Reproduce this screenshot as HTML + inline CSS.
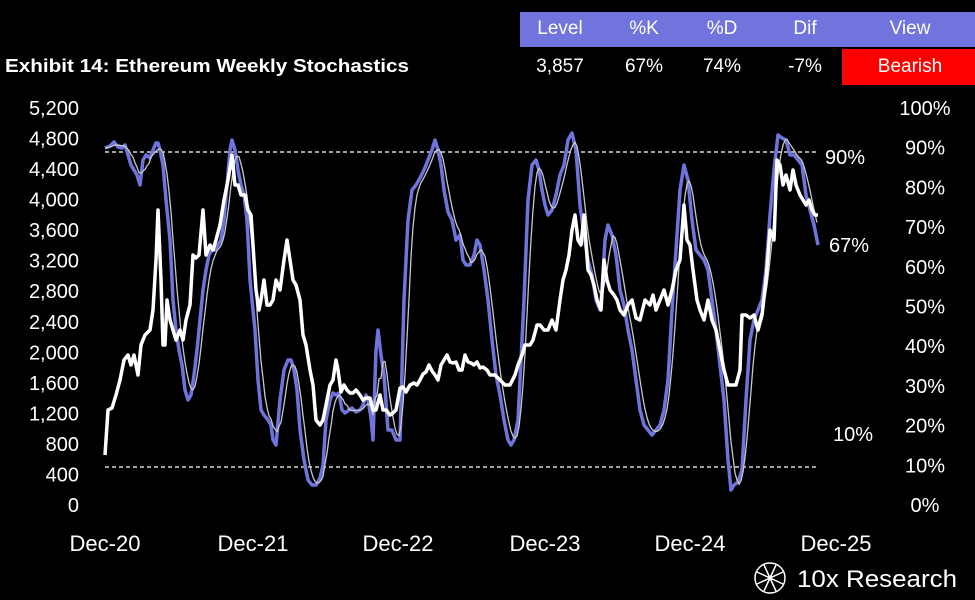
<!DOCTYPE html>
<html><head><meta charset="utf-8"><style>
html,body{margin:0;padding:0;background:#000;width:975px;height:600px;overflow:hidden}
svg{display:block;font-family:"Liberation Sans",sans-serif}
</style></head><body>
<svg id="s" width="975" height="600" viewBox="0 0 975 600">
<rect width="975" height="600" fill="#000"/>
<rect x="520" y="12" width="455" height="35" fill="#7074dc"/>
<rect x="842" y="49" width="133" height="36" fill="#ff0000"/>
<g fill="#fff" font-size="19" text-anchor="middle">
<text x="560" y="34">Level</text><text x="644" y="34">%K</text><text x="722" y="34">%D</text><text x="805" y="34">Dif</text><text x="910" y="34">View</text>
<text x="560" y="72">3,857</text><text x="644" y="72">67%</text><text x="722" y="72">74%</text><text x="805" y="72">-7%</text><text x="910" y="72">Bearish</text>
</g>
<text x="5" y="72" fill="#fff" font-size="18" font-weight="bold" textLength="404" lengthAdjust="spacingAndGlyphs">Exhibit 14: Ethereum Weekly Stochastics</text>
<g fill="#fff" font-size="20" text-anchor="end" id="ly"></g>
<g fill="#fff" font-size="20" text-anchor="middle" id="ry"></g>
<g fill="#fff" font-size="22" text-anchor="middle">
<text x="105" y="551">Dec-20</text><text x="253" y="551">Dec-21</text><text x="398" y="551">Dec-22</text><text x="545" y="551">Dec-23</text><text x="690" y="551">Dec-24</text><text x="836" y="551">Dec-25</text>
</g>
<g fill="#fff" font-size="20">
<text x="825" y="164">90%</text><text x="829" y="252">67%</text><text x="833" y="441">10%</text>
</g>
<line x1="105" y1="152" x2="818" y2="152" stroke="#fff" stroke-width="1.2" stroke-dasharray="4,3"/>
<line x1="105" y1="467" x2="818" y2="467" stroke="#fff" stroke-width="1.2" stroke-dasharray="4,3"/>
<path id="pk" fill="none" stroke="#6f73dc" stroke-width="3.5" stroke-linejoin="round"/>
<path id="pd" fill="none" stroke="#c8c8c8" stroke-width="1.3" stroke-linejoin="round"/>
<path id="pp" fill="none" stroke="#fff" stroke-width="3.5" stroke-linejoin="round"/>
<g stroke="#fff" stroke-width="1.5" fill="none"><circle cx="770" cy="578" r="15"/><path d="M757 572 L783 584 M757 584 L783 572 M764 565 L776 591 M776 565 L764 591"/></g>
<text x="797" y="587" fill="#fff" font-size="24" textLength="160" lengthAdjust="spacingAndGlyphs">10x Research</text>
</svg>
<script>
var ly=document.getElementById('ly'),ry=document.getElementById('ry'),ns='http://www.w3.org/2000/svg';
for(var v=0;v<=5200;v+=400){var t=document.createElementNS(ns,'text');t.setAttribute('x',79);t.setAttribute('y',505-v*397/5200+7);t.textContent=v>=1000?(Math.floor(v/1000)+','+String(v%1000).padStart(3,'0')):v;ly.appendChild(t);}
for(var p=0;p<=100;p+=10){var t=document.createElementNS(ns,'text');t.setAttribute('x',925);t.setAttribute('y',505-p*3.97+7);t.textContent=p+'%';ry.appendChild(t);}
function P(a){return 'M'+a.map(function(q){return q[0]+' '+q[1]}).join(' L');}
var price=[[105,455],[108,410],[112,408],[116,395],[120,380],[124,360],[128,355],[131,365],[134,355],[138,375],[141,345],[145,335],[150,330],[153,310],[156,260],[158,210],[161,280],[163,345],[165,345],[167,300],[170,320],[173,330],[176,340],[180,330],[183,340],[186,320],[190,305],[193,255],[196,258],[199,255],[203,210],[206,255],[210,245],[213,250],[216,240],[220,225],[224,200],[228,180],[232,155],[235,185],[238,185],[241,195],[245,195],[248,210],[251,215],[253,245],[256,290],[259,310],[261,300],[264,280],[267,305],[270,305],[273,300],[276,280],[280,290],[284,260],[287,240],[290,260],[293,280],[296,285],[300,300],[303,335],[306,345],[310,370],[313,385],[316,420],[320,425],[323,420],[326,405],[330,385],[333,380],[336,360],[338,370],[341,392],[344,385],[347,390],[350,393],[353,393],[356,390],[360,395],[363,400],[366,398],[370,398],[373,410],[376,410],[380,395],[383,410],[386,410],[390,415],[393,413],[396,410],[400,388],[403,387],[406,392],[410,385],[414,383],[417,385],[420,380],[423,374],[426,372],[429,365],[432,371],[435,375],[438,380],[441,365],[444,360],[447,355],[450,362],[453,363],[456,362],[459,370],[462,370],[465,355],[468,362],[471,363],[474,365],[477,362],[480,368],[483,367],[487,370],[490,375],[495,375],[500,380],[505,385],[510,385],[515,375],[518,365],[522,355],[525,345],[530,345],[533,340],[537,325],[540,325],[544,330],[548,330],[552,320],[556,330],[560,300],[563,280],[566,270],[569,255],[572,230],[575,215],[578,240],[581,245],[584,215],[588,270],[591,275],[594,285],[597,300],[601,310],[604,260],[607,280],[610,290],[614,295],[617,300],[620,310],[624,315],[628,305],[632,300],[636,318],[640,320],[645,300],[650,305],[653,295],[656,310],[660,300],[664,290],[668,305],[672,290],[676,270],[680,260],[684,205],[687,240],[690,245],[693,270],[697,300],[700,310],[704,320],[708,300],[712,320],[716,330],[720,350],[724,370],[728,385],[732,385],[736,385],[740,370],[742,315],[746,315],[750,318],[754,315],[758,330],[762,315],[766,280],[770,230],[774,240],[777,160],[780,165],[783,185],[786,175],[790,190],[793,170],[796,185],[800,195],[803,200],[806,205],[809,200],[812,210],[815,215],[818,215]];
var K=[[105,148],[110,146],[114,142],[118,147],[122,148],[125,145],[128,155],[131,165],[134,170],[137,175],[140,185],[143,160],[146,155],[150,158],[153,150],[156,143],[158,143],[160,150],[163,165],[166,200],[170,240],[173,300],[176,330],[179,350],[182,365],[185,390],[188,400],[191,395],[194,375],[197,350],[200,320],[203,290],[206,270],[209,255],[212,250],[215,250],[218,245],[221,240],[224,220],[227,185],[230,150],[232,140],[235,150],[238,170],[241,185],[244,195],[247,220],[250,280],[252,300],[255,330],[258,380],[261,410],[264,415],[268,420],[271,425],[273,440],[276,445],[280,400],[284,370],[288,360],[291,360],[294,370],[297,390],[300,430],[304,460],[308,480],[312,485],[316,485],[320,478],[323,465],[326,420],[330,400],[333,393],[336,395],[339,393],[342,410],[345,413],[349,410],[352,408],[356,412],[360,410],[363,405],[366,395],[368,400],[371,418],[373,440],[376,350],[378,330],[381,355],[384,375],[388,430],[392,430],[396,440],[400,440],[404,300],[408,220],[412,190],[416,185],[420,178],[424,170],[428,160],[432,150],[435,140],[438,150],[441,165],[444,190],[448,212],[452,220],[456,240],[460,235],[463,260],[466,265],[470,265],[474,255],[477,240],[480,245],[484,270],[488,300],[492,340],[496,375],[500,395],[504,420],[508,440],[511,445],[514,440],[518,420],[521,360],[524,300],[528,200],[532,165],[536,160],[539,170],[542,190],[545,205],[548,215],[552,210],[556,195],[560,175],[564,165],[568,140],[572,133],[576,150],[580,205],[584,235],[588,260],[592,275],[596,300],[600,310],[602,290],[605,240],[608,225],[612,235],[616,255],[620,290],[624,305],[628,330],[632,350],[636,380],[640,410],[644,425],[648,430],[652,435],[656,430],[660,425],[664,410],[668,380],[672,310],[676,250],[680,190],[684,165],[688,180],[692,220],[696,250],[700,255],[704,260],[708,270],[712,300],[716,330],[720,365],[724,400],[728,460],[731,490],[734,485],[738,482],[742,470],[746,400],[750,340],[754,320],[758,310],[762,300],[766,270],[770,215],[774,170],[778,135],[782,138],[786,140],[790,155],[794,155],[798,160],[802,165],[806,195],[810,210],[814,225],[818,245]];
function interp(a,x){if(x<=a[0][0])return a[0][1];for(var i=1;i<a.length;i++){if(a[i][0]>=x){var t=(x-a[i-1][0])/(a[i][0]-a[i-1][0]);return a[i-1][1]+t*(a[i][1]-a[i-1][1]);}}return a[a.length-1][1];}
var D=[];for(var x=105;x<=818;x+=2){var s=0;for(var j=0;j<3;j++)s+=interp(K,x-j*4);D.push([x,(s/3).toFixed(1)]);}
document.getElementById('pp').setAttribute('d',P(price));
document.getElementById('pk').setAttribute('d',P(K));
document.getElementById('pd').setAttribute('d',P(D));
</script>
</body></html>
